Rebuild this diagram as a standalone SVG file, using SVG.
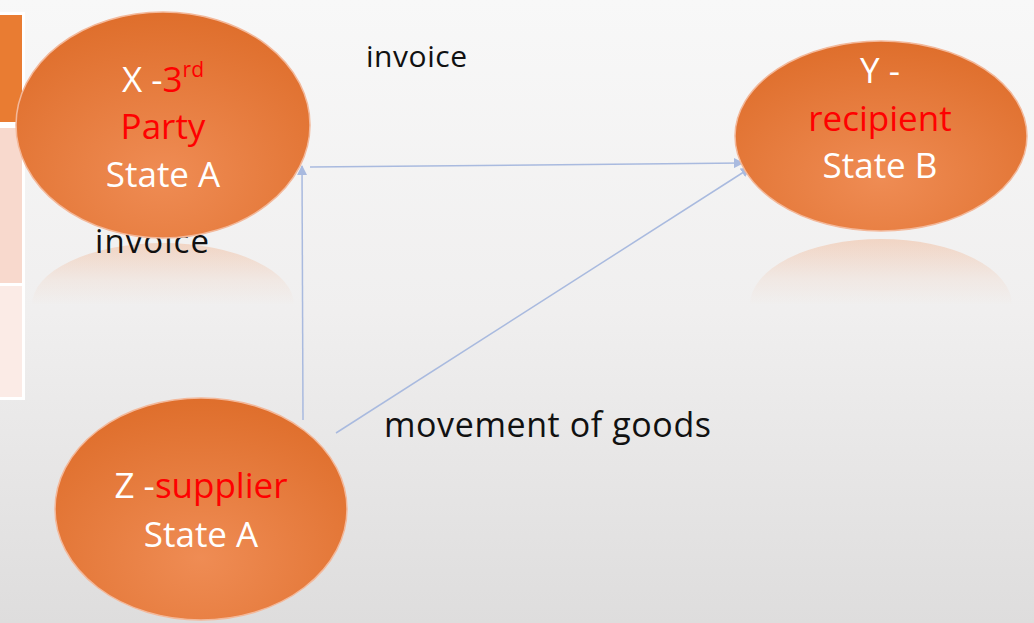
<svg xmlns="http://www.w3.org/2000/svg" width="1034" height="623" viewBox="0 0 1034 623">
<defs>
<linearGradient id="bg" x1="0" y1="0" x2="0" y2="1">
<stop offset="0" stop-color="#f8f8f8"/>
<stop offset="0.5" stop-color="#f0efef"/>
<stop offset="1" stop-color="#dedddd"/>
</linearGradient>
<radialGradient id="og" cx="0.5" cy="0.72" r="0.75">
<stop offset="0" stop-color="#ef8c54"/>
<stop offset="1" stop-color="#de6d2a"/>
</radialGradient>
<linearGradient id="refl" x1="0" y1="0" x2="0" y2="1">
<stop offset="0" stop-color="#f0a070" stop-opacity="0.35"/>
<stop offset="0.6" stop-color="#f0a070" stop-opacity="0.1"/>
<stop offset="1" stop-color="#f0a070" stop-opacity="0"/>
</linearGradient>
<marker id="ah" viewBox="0 0 10 10" refX="9" refY="5" markerWidth="10" markerHeight="10" markerUnits="userSpaceOnUse" orient="auto">
<path d="M0,0 L10,5 L0,10 z" fill="#a9badf"/>
</marker>
<style>
.node{fill:url(#og);stroke:#f3b89a;stroke-width:1.5}
.t{font-family:"Open Sans","Noto Sans",sans-serif;font-size:35px;text-anchor:middle}
.w{fill:#ffffff}
.r{fill:#ff0000}
.lbl{font-family:"Open Sans","Noto Sans",sans-serif;fill:#111111}
.conn{stroke:#a9badf;stroke-width:1.5;fill:none}
</style>
</defs>
<rect width="1034" height="623" fill="url(#bg)"/>
<g id="side-table">
<rect x="0" y="12" width="25" height="388" fill="#ffffff"/>
<rect x="0" y="15" width="22" height="107" fill="#e97c32"/>
<rect x="0" y="128" width="22" height="155" fill="#f8d9cd"/>
<rect x="0" y="286" width="22" height="111" fill="#fbebe6"/>
</g>
<g id="reflections">
<path d="M32,305 A131,62 0 0 1 294,305 Z" fill="url(#refl)"/>
<path d="M750,305 A131,66 0 0 1 1012,305 Z" fill="url(#refl)"/>
</g>
<g id="connectors">
<line class="conn" x1="303" y1="420" x2="302" y2="166" marker-end="url(#ah)"/>
<line class="conn" x1="310" y1="167" x2="743" y2="163" marker-end="url(#ah)"/>
<line class="conn" x1="336" y1="433" x2="750" y2="168" marker-end="url(#ah)"/>
</g>
<g id="labels">
<text class="lbl" x="366" y="67" font-size="30" textLength="101">invoice</text>
<text class="lbl" x="95" y="253" font-size="33" textLength="114">invoice</text>
<text class="lbl" x="384" y="437" font-size="34" textLength="327">movement of goods</text>
</g>
<g id="node-x">
<ellipse class="node" cx="163" cy="125" rx="147" ry="113"/>
<text class="t" x="163" y="92"><tspan class="w">X -</tspan><tspan class="r">3</tspan><tspan class="r" font-size="21" dy="-15">rd</tspan></text>
<text class="t r" x="163" y="139">Party</text>
<text class="t w" x="163" y="187">State A</text>
</g>
<g id="node-y">
<ellipse class="node" cx="881" cy="136" rx="146" ry="95"/>
<text class="t w" x="880" y="83">Y -</text>
<text class="t r" x="880" y="131">recipient</text>
<text class="t w" x="880" y="178">State B</text>
</g>
<g id="node-z">
<ellipse class="node" cx="201" cy="509" rx="146" ry="111"/>
<text class="t" x="201" y="498"><tspan class="w">Z -</tspan><tspan class="r">supplier</tspan></text>
<text class="t w" x="201" y="547">State A</text>
</g>
</svg>
